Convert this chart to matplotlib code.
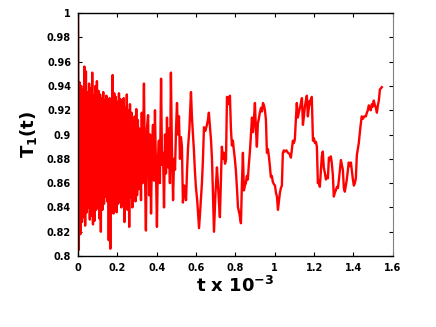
import matplotlib
matplotlib.use("Agg")
import matplotlib.pyplot as plt
import numpy as np

# ---- data ----
# dense early part, sampled every 0.004 (t x 10^-3)
dense_step = 0.004
T1_dense = [
    1.000, 0.805, 0.943, 0.818, 0.940, 0.828, 0.937, 0.832, 0.956, 0.825,
    0.952, 0.836, 0.935, 0.840, 0.942, 0.830, 0.938, 0.833, 0.951, 0.826,
    0.932, 0.829, 0.940, 0.838, 0.944, 0.840, 0.936, 0.831, 0.933, 0.820,
    0.930, 0.838, 0.935, 0.843, 0.928, 0.849, 0.932, 0.845, 0.926, 0.813,
    0.930, 0.806, 0.928, 0.836, 0.949, 0.835, 0.934, 0.840, 0.931, 0.836,
    0.927, 0.843, 0.934, 0.845, 0.929, 0.840, 0.925, 0.846, 0.930, 0.828,
    0.922, 0.842, 0.933, 0.838, 0.920, 0.824, 0.925, 0.848, 0.918, 0.840,
    0.909, 0.852, 0.915, 0.845, 0.921, 0.850, 0.912, 0.855, 0.905,
]

# later, slower part
t_late = [
    0.316, 0.320, 0.324, 0.328, 0.335, 0.340, 0.345, 0.350, 0.356, 0.361,
    0.366, 0.371, 0.376, 0.381, 0.386, 0.391, 0.396, 0.401, 0.406, 0.411,
    0.416, 0.422, 0.427, 0.432, 0.437, 0.442, 0.447, 0.452, 0.457, 0.462,
    0.467, 0.472, 0.477, 0.483, 0.488, 0.493, 0.498, 0.503, 0.508, 0.513,
    0.518, 0.523, 0.528, 0.533, 0.540, 0.549, 0.554, 0.559, 0.566, 0.574,
    0.579, 0.584, 0.589, 0.594, 0.599, 0.606, 0.615, 0.622, 0.630, 0.635,
    0.640, 0.647, 0.655, 0.660, 0.665, 0.671, 0.676, 0.681, 0.686, 0.691,
    0.698, 0.706, 0.711, 0.716, 0.721, 0.726, 0.731, 0.737, 0.742, 0.747,
    0.752, 0.757, 0.763, 0.767, 0.772, 0.777, 0.782, 0.787, 0.792, 0.797,
    0.802, 0.808, 0.813, 0.820, 0.828, 0.833, 0.838, 0.843, 0.848, 0.853,
    0.858, 0.863, 0.868, 0.874, 0.879, 0.884, 0.889, 0.894, 0.899, 0.904,
    0.909, 0.914, 0.919, 0.924, 0.930, 0.935, 0.940, 0.945, 0.950, 0.955,
    0.960, 0.965, 0.970, 0.975, 0.980, 0.985, 0.990, 0.996, 1.001, 1.006,
    1.011, 1.016, 1.021, 1.026, 1.031, 1.036, 1.041, 1.046, 1.051, 1.059,
    1.067, 1.075, 1.082, 1.087, 1.092, 1.097, 1.102, 1.107, 1.112, 1.117,
    1.122, 1.128, 1.133, 1.138, 1.143, 1.148, 1.153, 1.158, 1.163, 1.168,
    1.173, 1.178, 1.183, 1.188, 1.194, 1.199, 1.204, 1.209, 1.214, 1.219,
    1.224, 1.229, 1.234, 1.239, 1.244, 1.249, 1.255, 1.260, 1.265, 1.270,
    1.275, 1.280, 1.285, 1.290, 1.295, 1.300, 1.305, 1.310, 1.316, 1.321,
    1.326, 1.331, 1.336, 1.341, 1.346, 1.351, 1.356, 1.361, 1.366, 1.371,
    1.376, 1.382, 1.387, 1.392, 1.397, 1.402, 1.407, 1.412, 1.417, 1.422,
    1.427, 1.435, 1.442, 1.448, 1.455, 1.463, 1.468, 1.473, 1.478, 1.483,
    1.488, 1.493, 1.498, 1.503, 1.509, 1.514, 1.519, 1.524, 1.529, 1.534,
    1.539, 1.544,
]
T1_late = [
    0.900, 0.846, 0.918, 0.860, 0.942, 0.870, 0.821, 0.905, 0.916, 0.850,
    0.900, 0.835, 0.890, 0.908, 0.862, 0.920, 0.870, 0.824, 0.880, 0.895,
    0.860, 0.946, 0.875, 0.885, 0.840, 0.900, 0.868, 0.914, 0.873, 0.905,
    0.860, 0.951, 0.890, 0.846, 0.880, 0.871, 0.905, 0.926, 0.900, 0.915,
    0.880, 0.898, 0.890, 0.844, 0.858, 0.846, 0.870, 0.889, 0.905, 0.935,
    0.914, 0.900, 0.887, 0.870, 0.857, 0.845, 0.823, 0.840, 0.861, 0.880,
    0.906, 0.903, 0.908, 0.912, 0.918, 0.905, 0.895, 0.879, 0.850, 0.820,
    0.850, 0.873, 0.860, 0.845, 0.832, 0.862, 0.890, 0.880, 0.885, 0.876,
    0.879, 0.931, 0.925, 0.930, 0.932, 0.905, 0.891, 0.895, 0.887, 0.880,
    0.871, 0.855, 0.840, 0.835, 0.827, 0.860, 0.885, 0.854, 0.858, 0.860,
    0.866, 0.863, 0.875, 0.887, 0.900, 0.914, 0.902, 0.912, 0.926, 0.905,
    0.890, 0.909, 0.913, 0.918, 0.922, 0.919, 0.926, 0.924, 0.920, 0.912,
    0.885, 0.888, 0.882, 0.874, 0.865, 0.866, 0.861, 0.859, 0.858, 0.852,
    0.849, 0.838, 0.845, 0.852, 0.856, 0.858, 0.885, 0.887, 0.886, 0.887,
    0.885, 0.884, 0.881, 0.888, 0.895, 0.893, 0.896, 0.912, 0.926, 0.914,
    0.918, 0.922, 0.926, 0.930, 0.908, 0.915, 0.923, 0.928, 0.932, 0.915,
    0.922, 0.928, 0.925, 0.931, 0.895, 0.897, 0.893, 0.894, 0.890, 0.860,
    0.862, 0.857, 0.870, 0.882, 0.886, 0.873, 0.868, 0.863, 0.866, 0.864,
    0.881, 0.879, 0.882, 0.876, 0.867, 0.849, 0.852, 0.854, 0.857, 0.856,
    0.863, 0.871, 0.879, 0.875, 0.871, 0.856, 0.853, 0.858, 0.863, 0.870,
    0.877, 0.874, 0.877, 0.870, 0.863, 0.858, 0.860, 0.864, 0.883, 0.888,
    0.893, 0.906, 0.915, 0.913, 0.915, 0.915, 0.918, 0.920, 0.924, 0.921,
    0.920, 0.925, 0.923, 0.928, 0.924, 0.922, 0.918, 0.924, 0.928, 0.937,
    0.938, 0.939,
]

x_ticks = [0, 0.2, 0.4, 0.6, 0.8, 1, 1.2, 1.4, 1.6]
y_ticks = [0.8, 0.82, 0.84, 0.86, 0.88, 0.9, 0.92, 0.94, 0.96, 0.98, 1]

t_dense = np.arange(len(T1_dense)) * dense_step
t = np.concatenate([t_dense, t_late])
T1 = np.concatenate([T1_dense, T1_late])

fig = plt.figure(figsize=(4.36, 3.27), dpi=100)
ax = fig.add_axes([0.179, 0.217, 0.722, 0.743])

ax.plot(t, T1, color="red", lw=1.7)

ax.set_xlim(0, 1.6)
ax.set_ylim(0.8, 1.0)
ax.set_xticks(x_ticks)
ax.set_xticklabels(["0", "0.2", "0.4", "0.6", "0.8", "1", "1.2", "1.4", "1.6"])
ax.set_yticks(y_ticks)
ax.set_yticklabels(["0.8", "0.82", "0.84", "0.86", "0.88", "0.9", "0.92",
                    "0.94", "0.96", "0.98", "1"])

ax.tick_params(direction="in", length=3, width=0.8, labelsize=7,
               top=True, right=True, pad=5)
for lab in ax.get_xticklabels() + ax.get_yticklabels():
    lab.set_fontweight("bold")

for s in ["left", "bottom", "top"]:
    ax.spines[s].set_color("black")
    ax.spines[s].set_linewidth(1.0)
ax.spines["right"].set_color("gray")
ax.spines["right"].set_linewidth(0.8)

ax.set_xlabel("t x 10$^{\\mathbf{-3}}$", fontsize=13, fontweight="bold", labelpad=2)
ax.set_ylabel("T$_\\mathbf{1}$(t)", fontsize=13, fontweight="bold", labelpad=6)

fig.savefig("out.png", dpi=100)
